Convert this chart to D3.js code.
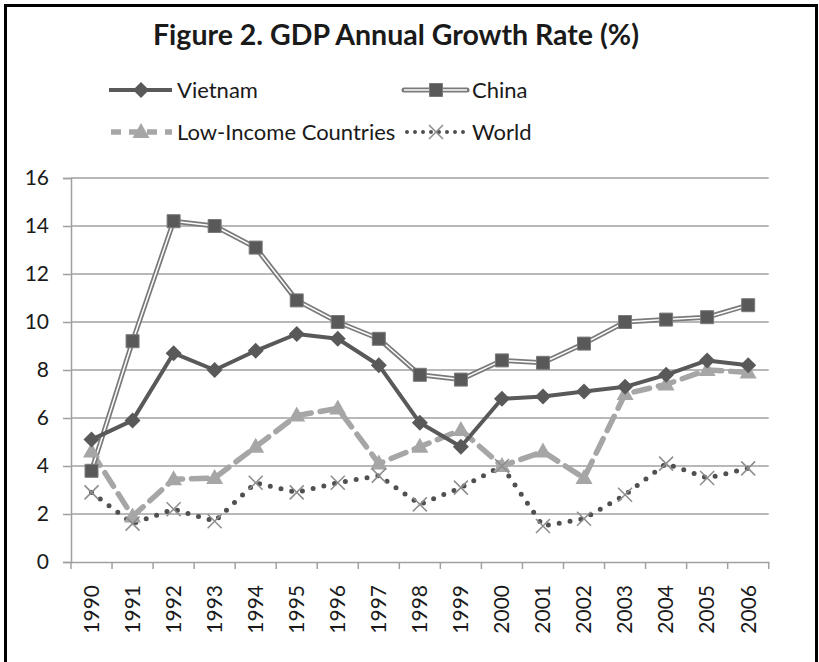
<!DOCTYPE html>
<html><head><meta charset="utf-8">
<script src="https://cdn.jsdelivr.net/npm/d3@7"></script>
<style>
html,body{margin:0;padding:0;background:#fff;}
svg{display:block;font-family:Lato,"Noto Sans",sans-serif;}
</style></head>
<body>
<svg id="chart" width="819" height="662"></svg>
<script>
const years = ["1990","1991","1992","1993","1994","1995","1996","1997","1998","1999","2000","2001","2002","2003","2004","2005","2006"];
const vietnam = [5.1,5.9,8.7,8.0,8.8,9.5,9.3,8.2,5.8,4.8,6.8,6.9,7.1,7.3,7.8,8.4,8.2];
const china = [3.8,9.2,14.2,14.0,13.1,10.9,10.0,9.3,7.8,7.6,8.4,8.3,9.1,10.0,10.1,10.2,10.7];
const lowIncome = [4.6,1.9,3.45,3.5,4.8,6.1,6.4,4.1,4.8,5.5,4.0,4.6,3.5,7.0,7.4,8.0,7.9];
const world = [2.9,1.6,2.2,1.7,3.3,2.9,3.3,3.6,2.4,3.1,4.0,1.5,1.8,2.8,4.1,3.5,3.9];
const yTicks = [0,2,4,6,8,10,12,14,16];
const titleText = "Figure 2. GDP Annual Growth Rate (%)";
const seriesNames = ["Vietnam","China","Low-Income Countries","World"];

const svg = d3.select("#chart");
const x = d3.scaleBand().domain(years).range([71, 768.7]).padding(0);
const y = d3.scaleLinear().domain([0,16]).range([562,178]);
const cx = d => x(d) + x.bandwidth()/2;

const dark = "#595959", light = "#a6a6a6", grid = "#a0a0a0", txt = "#1a1a1a";

// frame
svg.append("rect").attr("x",5.5).attr("y",5.5).attr("width",811).attr("height",680)
  .attr("fill","none").attr("stroke","#000").attr("stroke-width",3);

// title
svg.append("text").attr("x",396).attr("y",45).attr("text-anchor","middle")
  .attr("font-size",28.5).attr("font-weight","bold").attr("fill",txt).text(titleText);

// gridlines
svg.append("g").selectAll("line").data(yTicks.filter(d=>d>0)).join("line")
  .attr("x1",71).attr("x2",768.7).attr("y1",d=>y(d)).attr("y2",d=>y(d))
  .attr("stroke",grid).attr("stroke-width",1.5);

// y axis
const yAxis = svg.append("g").attr("transform","translate(71,0)")
  .call(d3.axisLeft(y).tickValues(yTicks).tickSize(8).tickPadding(14).tickFormat(d3.format("d")));
yAxis.select(".domain").attr("stroke",grid).attr("stroke-width",1.5);
yAxis.selectAll(".tick line").attr("stroke",grid).attr("stroke-width",1.5);
yAxis.selectAll("text").attr("font-size",21).attr("fill",txt).attr("font-family","Lato");

// x axis
const xAxis = svg.append("g").attr("transform","translate(0,562)")
  .call(d3.axisBottom(x).tickSize(0).tickPadding(0));
xAxis.select(".domain").attr("stroke",grid).attr("stroke-width",1.5);
xAxis.selectAll(".tick text").attr("font-size",21).attr("fill",txt).attr("font-family","Lato")
  .attr("transform","rotate(-90)").attr("text-anchor","end").attr("x",-23).attr("y",0).attr("dy","0.35em");
const bounds = years.map(d=>x(d)).concat([x.range()[1]]);
svg.append("g").selectAll("line").data(bounds).join("line")
  .attr("x1",d=>d).attr("x2",d=>d).attr("y1",562).attr("y2",569)
  .attr("stroke",grid).attr("stroke-width",1.5);

// marker paths
const diamond = "M0,-8L8,0L0,8L-8,0Z";
const square = "M-6.5,-6.5H6.5V6.5H-6.5Z";
const triangle = "M0,-9L8.5,6H-8.5Z";
const cross = "M-7,-7L7,7M7,-7L-7,7";

const line = d3.line().x((d,i)=>cx(years[i])).y(d=>y(d));

// Low-income (dashed)
svg.append("path").datum(lowIncome).attr("d",line).attr("fill","none")
  .attr("stroke",light).attr("stroke-width",5.5).attr("stroke-dasharray","16,9").attr("stroke-linecap","round");
// World dotted
svg.append("path").datum(world).attr("d",line).attr("fill","none")
  .attr("stroke","#505050").attr("stroke-width",5).attr("stroke-dasharray","0,11").attr("stroke-linecap","round");
// China double line
svg.append("path").datum(china).attr("d",line).attr("fill","none")
  .attr("stroke","#7a7a7a").attr("stroke-width",5).attr("stroke-linejoin","round");
svg.append("path").datum(china).attr("d",line).attr("fill","none")
  .attr("stroke","#ffffff").attr("stroke-width",1.5).attr("stroke-linejoin","round");
// Vietnam
svg.append("path").datum(vietnam).attr("d",line).attr("fill","none")
  .attr("stroke",dark).attr("stroke-width",4).attr("stroke-linejoin","round");

// markers
svg.append("g").selectAll("path").data(lowIncome).join("path")
  .attr("transform",(d,i)=>`translate(${cx(years[i])},${y(d)})`).attr("d",triangle).attr("fill",light);
svg.append("g").selectAll("path").data(world).join("path")
  .attr("transform",(d,i)=>`translate(${cx(years[i])},${y(d)})`).attr("d",cross)
  .attr("fill","none").attr("stroke","#8c8c8c").attr("stroke-width",1.5);
svg.append("g").selectAll("path").data(china).join("path")
  .attr("transform",(d,i)=>`translate(${cx(years[i])},${y(d)})`).attr("d",square)
  .attr("fill",dark).attr("stroke","#7a7a7a").attr("stroke-width",1);
svg.append("g").selectAll("path").data(vietnam).join("path")
  .attr("transform",(d,i)=>`translate(${cx(years[i])},${y(d)})`).attr("d",diamond).attr("fill",dark);

// legend
const leg = svg.append("g");
function legendItem(x0, yl, name, kind){
  const x1 = x0, x2 = x0+63, xm = x0+32;
  if(kind==="vn"){
    leg.append("line").attr("x1",x1).attr("x2",x2).attr("y1",yl).attr("y2",yl).attr("stroke",dark).attr("stroke-width",4);
    leg.append("path").attr("transform",`translate(${xm},${yl})`).attr("d",diamond).attr("fill",dark);
  } else if(kind==="cn"){
    leg.append("line").attr("x1",x1).attr("x2",x2).attr("y1",yl).attr("y2",yl).attr("stroke","#7a7a7a").attr("stroke-width",5).attr("stroke-linecap","round");
    leg.append("line").attr("x1",x1).attr("x2",x2).attr("y1",yl).attr("y2",yl).attr("stroke","#fff").attr("stroke-width",1.5);
    leg.append("path").attr("transform",`translate(${xm},${yl})`).attr("d",square).attr("fill",dark).attr("stroke","#7a7a7a");
  } else if(kind==="li"){
    leg.append("line").attr("x1",x1+2).attr("x2",x2).attr("y1",yl).attr("y2",yl).attr("stroke",light).attr("stroke-width",5.5).attr("stroke-dasharray","10,8");
    leg.append("path").attr("transform",`translate(${xm},${yl})`).attr("d",triangle).attr("fill",light);
  } else {
    leg.append("line").attr("x1",x1+3).attr("x2",x2).attr("y1",yl).attr("y2",yl).attr("stroke","#505050").attr("stroke-width",4).attr("stroke-dasharray","0,8").attr("stroke-linecap","round");
    leg.append("path").attr("transform",`translate(${xm},${yl})`).attr("d",cross).attr("fill","none").attr("stroke","#8c8c8c").attr("stroke-width",1.5);
  }
  leg.append("text").attr("x",x2+5).attr("y",yl+7.5).attr("font-size",22).attr("fill",txt).text(name);
}
legendItem(109, 90, seriesNames[0], "vn");
legendItem(404, 90, seriesNames[1], "cn");
legendItem(109, 132, seriesNames[2], "li");
legendItem(404, 132, seriesNames[3], "w");
</script>
</body></html>
